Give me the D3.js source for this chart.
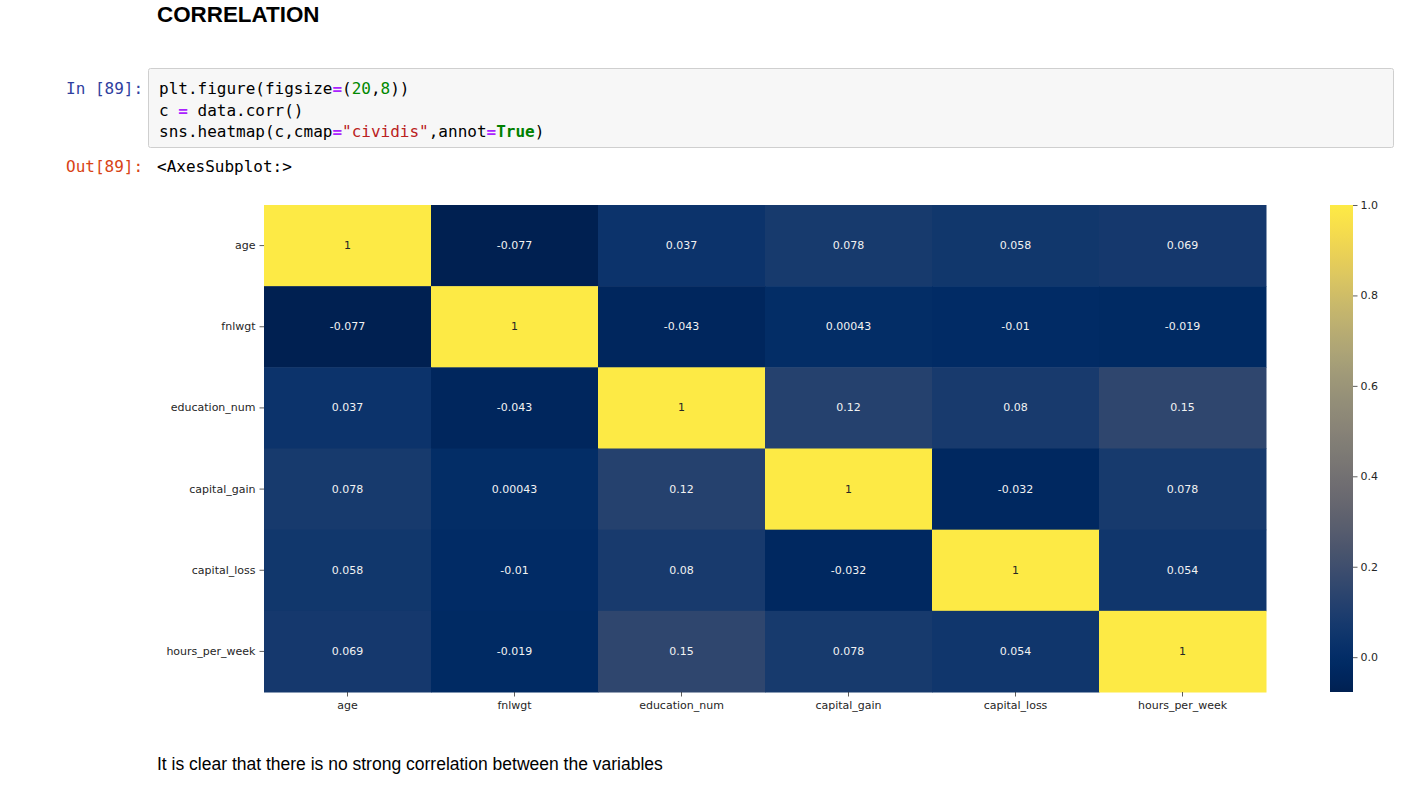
<!DOCTYPE html>
<html>
<head>
<meta charset="utf-8">
<script src="https://cdn.jsdelivr.net/npm/d3@7"></script>
<style>
  html, body { margin: 0; padding: 0; background: #fff; }
  svg { display: block; }
</style>
</head>
<body>
<svg id="page" width="1407" height="798"></svg>
<script>
// ---------- data ----------
const variables = ["age", "fnlwgt", "education_num", "capital_gain", "capital_loss", "hours_per_week"];
const row_age            = [1, -0.077, 0.037, 0.078, 0.058, 0.069];
const row_fnlwgt         = [-0.077, 1, -0.043, 0.00043, -0.01, -0.019];
const row_education_num  = [0.037, -0.043, 1, 0.12, 0.08, 0.15];
const row_capital_gain   = [0.078, 0.00043, 0.12, 1, -0.032, 0.078];
const row_capital_loss   = [0.058, -0.01, 0.08, -0.032, 1, 0.054];
const row_hours_per_week = [0.069, -0.019, 0.15, 0.078, 0.054, 1];
const annotLabels = [
  ["1", "-0.077", "0.037", "0.078", "0.058", "0.069"],
  ["-0.077", "1", "-0.043", "0.00043", "-0.01", "-0.019"],
  ["0.037", "-0.043", "1", "0.12", "0.08", "0.15"],
  ["0.078", "0.00043", "0.12", "1", "-0.032", "0.078"],
  ["0.058", "-0.01", "0.08", "-0.032", "1", "0.054"],
  ["0.069", "-0.019", "0.15", "0.078", "0.054", "1"]
];
const colorbarTicks = [0.0, 0.2, 0.4, 0.6, 0.8, 1.0];
const valueMin = -0.077, valueMax = 1;

const matrix = [row_age, row_fnlwgt, row_education_num, row_capital_gain, row_capital_loss, row_hours_per_week];
const cells = [];
matrix.forEach((row, i) => row.forEach((v, j) => cells.push({r: variables[i], c: variables[j], v, label: annotLabels[i][j]})));

const svg = d3.select("#page");

// ---------- notebook chrome ----------
svg.append("text").attr("x", 157).attr("y", 22)
  .style("font", "bold 22.4px 'Liberation Sans', Arial, sans-serif").attr("fill", "#000")
  .text("CORRELATION");

const mono = "16px 'DejaVu Sans Mono', 'Liberation Mono', monospace";
svg.append("text").attr("x", 66).attr("y", 94).style("font", mono).attr("fill", "#303F9F").text("In [89]:");
svg.append("rect").attr("x", 148.5).attr("y", 68.5).attr("width", 1245).attr("height", 79)
  .attr("rx", 2).attr("fill", "#f7f7f7").attr("stroke", "#cfcfcf");

const codeLines = [
  [["plt.figure(figsize", "#000"], ["=", "#AA22FF", "bold"], ["(", "#000"], ["20", "#008800"], [",", "#000"], ["8", "#008800"], ["))", "#000"]],
  [["c ", "#000"], ["=", "#AA22FF", "bold"], [" data.corr()", "#000"]],
  [["sns.heatmap(c,cmap", "#000"], ["=", "#AA22FF", "bold"], ["\"cividis\"", "#BA2121"], [",annot", "#000"], ["=", "#AA22FF", "bold"], ["True", "#008000", "bold"], [")", "#000"]]
];
const codeBase = [94, 115.5, 137];
codeLines.forEach((parts, i) => {
  const t = svg.append("text").attr("x", 159).attr("y", codeBase[i]).style("font", mono).attr("xml:space", "preserve");
  parts.forEach(p => t.append("tspan").attr("fill", p[1]).attr("font-weight", p[2] || "normal").text(p[0]));
});

svg.append("text").attr("x", 66).attr("y", 172).style("font", mono).attr("fill", "#D84315").text("Out[89]:");
svg.append("text").attr("x", 157).attr("y", 172).style("font", mono).attr("fill", "#000").text("<AxesSubplot:>");

svg.append("text").attr("x", 157).attr("y", 770)
  .style("font", "17.5px 'Liberation Sans', Arial, sans-serif").attr("fill", "#000")
  .text("It is clear that there is no strong correlation between the variables");

// ---------- heatmap ----------
const hmLeft = 264, hmTop = 205, hmRight = 1266, hmBottom = 692;
const x = d3.scaleBand().domain(variables).range([hmLeft, hmRight]);
const y = d3.scaleBand().domain(variables).range([hmTop, hmBottom]);
const color = d3.scaleSequential(d3.interpolateCividis).domain([valueMin, valueMax]);

const g = svg.append("g");
g.selectAll("rect.cell").data(cells).join("rect").attr("class", "cell")
  .attr("x", d => x(d.c)).attr("y", d => y(d.r))
  .attr("width", x.bandwidth() + 0.5).attr("height", y.bandwidth() + 0.5)
  .attr("fill", d => color(d.v));

function lum(c) {
  const rgb = d3.rgb(c);
  const f = v => { v /= 255; return v <= 0.03928 ? v / 12.92 : Math.pow((v + 0.055) / 1.055, 2.4); };
  return 0.2126 * f(rgb.r) + 0.7152 * f(rgb.g) + 0.0722 * f(rgb.b);
}
const tickFont = "11px 'DejaVu Sans', sans-serif";
g.selectAll("text.annot").data(cells).join("text").attr("class", "annot")
  .attr("x", d => x(d.c) + x.bandwidth() / 2).attr("y", d => y(d.r) + y.bandwidth() / 2)
  .attr("text-anchor", "middle").attr("dominant-baseline", "central")
  .style("font", tickFont)
  .attr("fill", d => lum(color(d.v)) > 0.408 ? "#262626" : "#f2f2f2")
  .text(d => d.label);

const xAxis = d3.axisBottom(x).tickSize(4.5).tickPadding(4.5);
const gx = svg.append("g").attr("transform", `translate(0,${hmBottom})`).call(xAxis);
const yAxis = d3.axisLeft(y).tickSize(4.5).tickPadding(4);
const gy = svg.append("g").attr("transform", `translate(${hmLeft},0)`).call(yAxis);
[gx, gy].forEach(a => {
  a.select(".domain").remove();
  a.selectAll("line").attr("stroke", "#333").attr("stroke-width", 0.8);
  a.selectAll("text").style("font", tickFont).attr("fill", "#262626");
});

// ---------- colorbar ----------
const cbX = 1330, cbW = 23;
const cy = d3.scaleLinear().domain([valueMin, valueMax]).range([hmBottom, hmTop]);
const defs = svg.append("defs");
const grad = defs.append("linearGradient").attr("id", "cb").attr("x1", 0).attr("y1", 1).attr("x2", 0).attr("y2", 0);
d3.range(0, 1.0001, 0.02).forEach(t => {
  grad.append("stop").attr("offset", t).attr("stop-color", color(valueMin + t * (valueMax - valueMin)));
});
svg.append("rect").attr("x", cbX).attr("y", hmTop).attr("width", cbW).attr("height", hmBottom - hmTop).attr("fill", "url(#cb)");
const cAxis = d3.axisRight(cy).tickValues(colorbarTicks).tickFormat(d3.format(".1f")).tickSize(4.5).tickPadding(3);
const gc = svg.append("g").attr("transform", `translate(${cbX + cbW},0)`).call(cAxis);
gc.select(".domain").remove();
gc.selectAll("line").attr("stroke", "#333").attr("stroke-width", 0.8);
gc.selectAll("text").style("font", tickFont).attr("fill", "#262626");
</script>
</body>
</html>
